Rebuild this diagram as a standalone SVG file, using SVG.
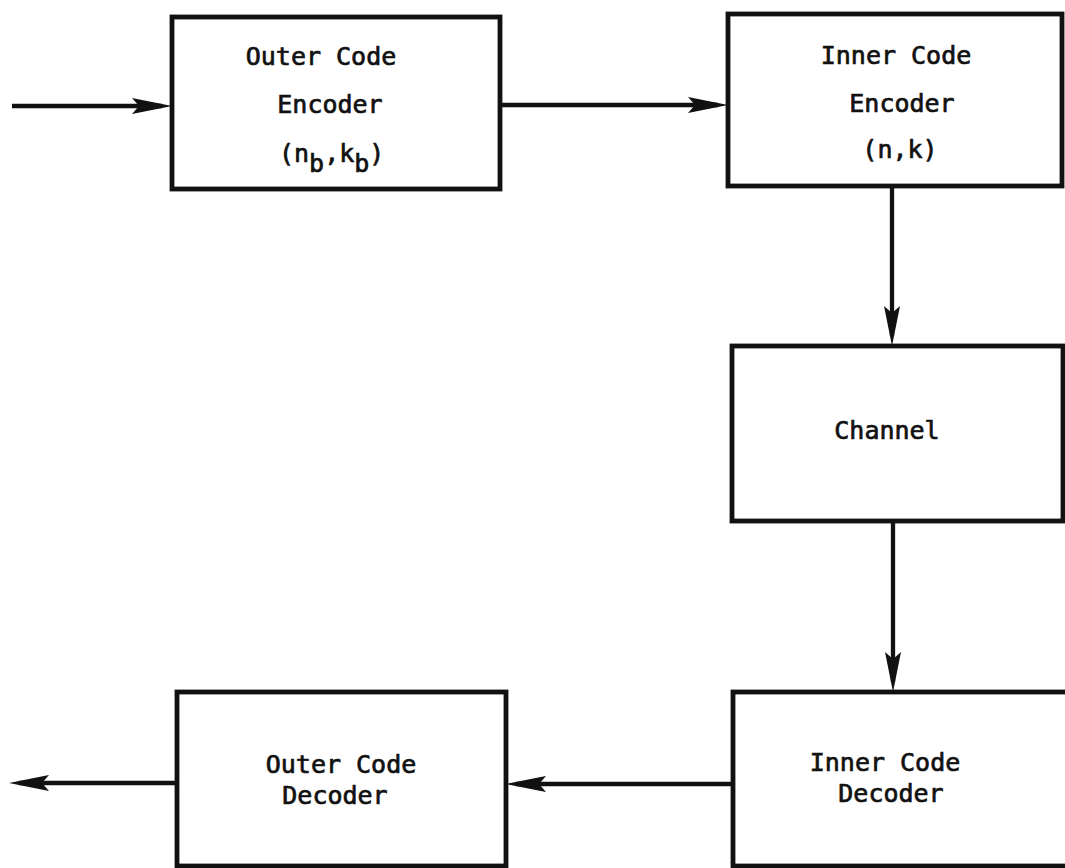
<svg xmlns="http://www.w3.org/2000/svg" width="1065" height="868" viewBox="0 0 1065 868">
  <style>
    .box { fill: none; stroke: #111; stroke-width: 4.8; stroke-linejoin: miter; }
    .lbl { font-family: "DejaVu Sans Mono", "Liberation Mono", monospace; font-size: 25px; fill: #111; stroke: #111; stroke-width: 0.7; text-anchor: middle; }
    .lbls { font-family: "DejaVu Sans Mono", "Liberation Mono", monospace; font-size: 25px; fill: #111; stroke: #111; stroke-width: 0.7; }
    .conn { fill: none; stroke: #111; stroke-width: 4.3; marker-end: url(#arrow); }
  </style>
  <defs>
    <marker id="arrow" markerUnits="userSpaceOnUse" viewBox="0 0 40 16" refX="30" refY="8" markerWidth="40" markerHeight="16" orient="auto">
      <path d="M0,0 L40,8 L0,16 L7,8 Z" fill="#111"/>
    </marker>
  </defs>
  <rect width="1065" height="868" fill="#fff"/>

  <g id="outer-encoder">
    <rect class="box" x="172" y="17" width="328" height="172"/>
    <text class="lbl" x="321" y="65">Outer Code</text>
    <text class="lbl" x="330" y="113">Encoder</text>
    <text class="lbls" x="279" y="162">(n<tspan dy="10">b</tspan><tspan dy="-10">,k</tspan><tspan dy="10">b</tspan><tspan dy="-10">)</tspan></text>
  </g>

  <g id="inner-encoder">
    <rect class="box" x="728" y="14" width="334" height="172"/>
    <text class="lbl" x="896" y="64">Inner Code</text>
    <text class="lbl" x="902" y="112">Encoder</text>
    <text class="lbl" x="900" y="158">(n,k)</text>
  </g>

  <g id="channel">
    <rect class="box" x="732" y="346" width="331" height="175"/>
    <text class="lbl" x="887" y="439">Channel</text>
  </g>

  <g id="inner-decoder">
    <rect class="box" x="733" y="692" width="340" height="174"/>
    <text class="lbl" x="885" y="771">Inner Code</text>
    <text class="lbl" x="891" y="802">Decoder</text>
  </g>

  <g id="outer-decoder">
    <rect class="box" x="177" y="692" width="329" height="174"/>
    <text class="lbl" x="341" y="773">Outer Code</text>
    <text class="lbl" x="335" y="804">Decoder</text>
  </g>

  <g id="connectors">
    <line class="conn" x1="12" y1="106" x2="162" y2="106"/>
    <line class="conn" x1="500" y1="105" x2="718" y2="105"/>
    <line class="conn" x1="892" y1="186" x2="892" y2="336"/>
    <line class="conn" x1="893" y1="521" x2="893" y2="682"/>
    <line class="conn" x1="733" y1="784" x2="516" y2="784"/>
    <line class="conn" x1="177" y1="783" x2="19" y2="783"/>
  </g>
</svg>
